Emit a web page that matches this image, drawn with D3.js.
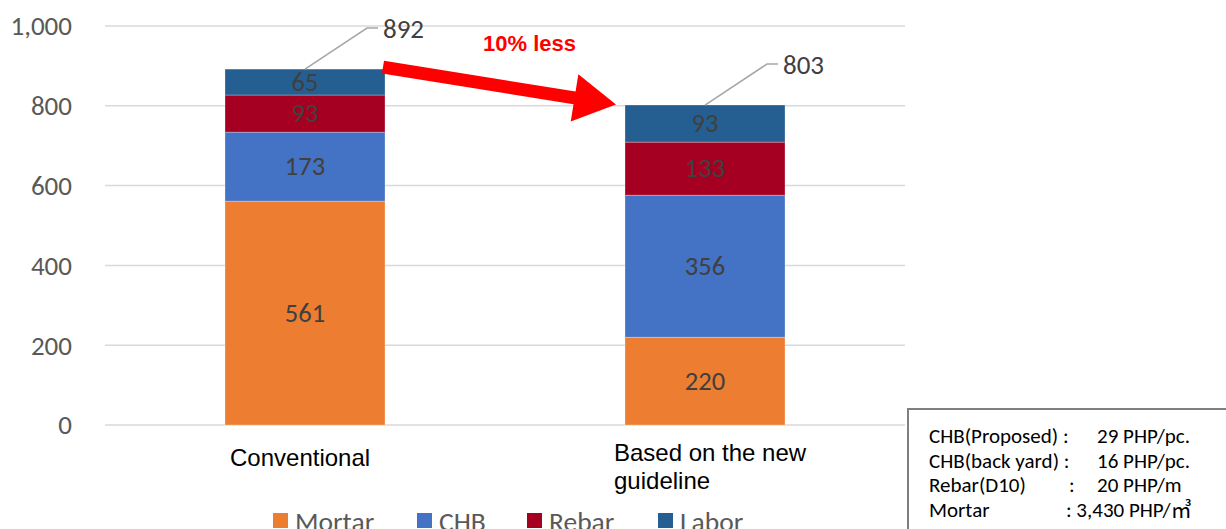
<!DOCTYPE html>
<html><head><meta charset="utf-8">
<script src="https://cdn.jsdelivr.net/npm/d3@7"></script>
<style>
html,body{margin:0;padding:0;background:#fff;}
svg{display:block;}
</style></head>
<body>
<svg id="c" width="1226" height="529"></svg>
<script>
const categories = ["Conventional", "Based on the new guideline"];
const categoryLines = [["Conventional"], ["Based on the new", "guideline"]];
const seriesNames = ["Mortar", "CHB", "Rebar", "Labor"];
const seriesColors = ["#ED7D31", "#4472C4", "#A50021", "#255E91"];
const mortar = [561, 220];
const chb = [173, 356];
const rebar = [93, 133];
const labor = [65, 93];
const totals = [892, 803];
const yTicks = [0, 200, 400, 600, 800, 1000];
const annotationText = "10% less";
const priceLabels = ["CHB(Proposed) :", "CHB(back yard) :", "Rebar(D10)", "Mortar"];
const priceValues = ["29 PHP/pc.", "16 PHP/pc.", "20 PHP/m", ": 3,430 PHP/"];
const priceUnitSuffix = ["", "", "", "㎥"];

const calibri = "Carlito, Lato, 'Open Sans', sans-serif";
const arial = "'Liberation Sans', Arial, sans-serif";

const svg = d3.select("#c");
const x = d3.scaleBand().domain(categories).range([105, 905]).paddingInner(0.6).paddingOuter(0.3);
const y = d3.scaleLinear().domain([0, 1000]).range([425, 26]);

const rows = categories.map((c, i) => ({cat: c, Mortar: mortar[i], CHB: chb[i], Rebar: rebar[i], Labor: labor[i]}));
const stacked = d3.stack().keys(seriesNames)(rows);

// gridlines
svg.append("g").selectAll("line").data(yTicks).join("line")
  .attr("x1", 105).attr("x2", 905)
  .attr("y1", d => y(d)).attr("y2", d => y(d))
  .attr("stroke", "#d9d9d9").attr("stroke-width", 1.5);

// y axis labels
const yAxis = d3.axisLeft(y).tickValues(yTicks).tickFormat(d3.format(",")).tickSize(0).tickPadding(0);
const ya = svg.append("g").attr("transform", "translate(72,0)").call(yAxis);
ya.select(".domain").remove();
ya.selectAll("text").attr("font-family", calibri).attr("font-size", 27).attr("fill", "#595959").attr("dy", "0.33em");

// bars
const layers = svg.append("g").selectAll("g").data(stacked).join("g")
  .attr("fill", (d, i) => seriesColors[i]);
layers.selectAll("rect").data(d => d).join("rect")
  .attr("x", d => x(d.data.cat)).attr("width", x.bandwidth())
  .attr("y", d => y(d[1])).attr("height", d => y(d[0]) - y(d[1]))
  .attr("stroke", "rgba(255,255,255,0.35)").attr("stroke-width", 0.8);

// segment labels
const lbl = svg.append("g");
stacked.forEach(layer => {
  layer.forEach(d => {
    lbl.append("text")
      .attr("x", x(d.data.cat) + x.bandwidth() / 2)
      .attr("y", (y(d[0]) + y(d[1])) / 2)
      .attr("dy", "0.33em").attr("text-anchor", "middle")
      .attr("font-family", calibri).attr("font-size", 26.5).attr("fill", "#404040")
      .text(d[1] - d[0]);
  });
});

// total leaders and labels
categories.forEach((c, i) => {
  const top = stacked[stacked.length - 1][i][1];
  const x0 = x(c) + x.bandwidth() / 2;
  const y0 = y(top);
  const x1 = x0 + 62, y1 = y0 - 41;
  svg.append("polyline")
    .attr("points", `${x0},${y0} ${x1},${y1} ${x1 + 11},${y1}`)
    .attr("fill", "none").attr("stroke", "#a6a6a6").attr("stroke-width", 1.5);
  svg.append("text").attr("x", x1 + 16).attr("y", y1 + 1).attr("dy", "0.33em")
    .attr("font-family", calibri).attr("font-size", 27).attr("fill", "#404040")
    .text(d3.format(",")(totals[i]));
});

// category labels
categoryLines.forEach((lines, i) => {
  const t = svg.append("text").attr("font-family", arial).attr("font-size", 24).attr("fill", "#000");
  const multi = lines.length > 1;
  lines.forEach((ln, j) => {
    t.append("tspan")
      .attr("x", multi ? x(categories[i]) - 11 : x(categories[i]) + 5)
      .attr("y", (multi ? 461 : 466) + j * 28)
      .text(ln);
  });
});

// red arrow
(function(){
  const sx = x(categories[0]) + x.bandwidth() - 2, sy = y(totals[0]) - 2;
  const ex = x(categories[1]) - 9, ey = y(totals[1]);
  const dx = ex - sx, dy = ey - sy, L = Math.hypot(dx, dy);
  const ux = dx / L, uy = dy / L, nx = -uy, ny = ux;
  const hw = 6.5, headL = 42, headW = 24;
  const bx = ex - ux * headL, by = ey - uy * headL;
  const pts = [
    [sx + nx * hw, sy + ny * hw],
    [bx + nx * hw, by + ny * hw],
    [bx + nx * headW, by + ny * headW],
    [ex, ey],
    [bx - nx * headW, by - ny * headW],
    [bx - nx * hw, by - ny * hw],
    [sx - nx * hw, sy - ny * hw]
  ];
  svg.append("polygon").attr("points", pts.map(p => p.join(",")).join(" ")).attr("fill", "#FF0000");
})();
svg.append("text").attr("x", 483).attr("y", 51)
  .attr("font-family", arial).attr("font-weight", "bold").attr("font-size", 22).attr("fill", "#FF0000")
  .text(annotationText);

// legend
const legX = [273, 417, 527, 658];
const leg = svg.append("g");
seriesNames.forEach((s, i) => {
  leg.append("rect").attr("x", legX[i]).attr("y", 513).attr("width", 15).attr("height", 15).attr("fill", seriesColors[i]);
  leg.append("text").attr("x", legX[i] + 22).attr("y", 531)
    .attr("font-family", calibri).attr("font-size", 27.5).attr("fill", "#595959").text(s);
});

// price box
svg.append("rect").attr("x", 908).attr("y", 409).attr("width", 400).attr("height", 200)
  .attr("fill", "#fff").attr("stroke", "#7f7f7f").attr("stroke-width", 2);
priceLabels.forEach((p, i) => {
  const by = 443 + i * 24.6;
  const last = i === priceLabels.length - 1;
  svg.append("text").attr("x", 929).attr("y", by).attr("font-family", calibri).attr("font-size", 21).attr("fill", "#000").text(p);
  if (i === 2) svg.append("text").attr("x", 1069).attr("y", by).attr("font-family", calibri).attr("font-size", 21).attr("fill", "#000").text(":");
  const t = svg.append("text").attr("x", last ? 1066 : 1097).attr("y", by).attr("font-family", calibri).attr("font-size", 21).attr("fill", "#000");
  t.append("tspan").text(priceValues[i]);
  if (priceUnitSuffix[i]) t.append("tspan").attr("font-family", "'Noto Sans CJK JP', sans-serif").attr("font-size", 21).text(priceUnitSuffix[i]);
});
</script>
</body></html>
